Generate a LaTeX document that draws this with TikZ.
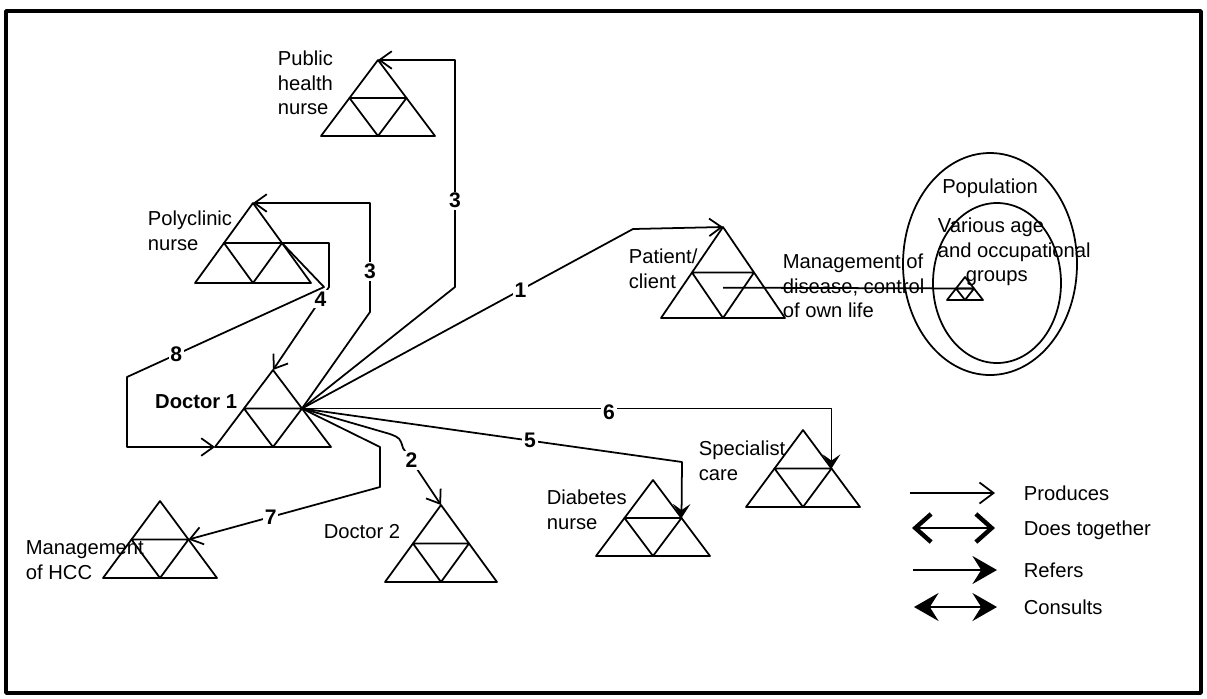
\documentclass[tikz,border=0pt]{standalone}
\usepackage{fontspec}
\setmainfont{Liberation Sans}
\usepackage{tikz}
\usetikzlibrary{arrows.meta,calc}

\tikzset{
  pics/tri/.style args={#1/#2}{code={
    \coordinate (-apex) at (0,0);
    \coordinate (-bl) at (-#1,#2);
    \coordinate (-br) at (#1,#2);
    \coordinate (-ml) at ({-#1/2},{#2/2});
    \coordinate (-mr) at ({#1/2},{#2/2});
    \coordinate (-bm) at (0,#2);
    \coordinate (-c) at (0,{#2*2/3});
    \draw (-apex) -- (-bl) -- (-br) -- cycle;
    \draw (-ml) -- (-mr) -- (-bm) -- cycle;
  }},
  bigbarb/.tip={Straight Barb[length=9pt,width=16pt,line width=2.5pt]},
  bigstealth/.tip={Stealth[length=14pt,width=16pt,inset=5pt]},
}

\begin{document}
\begin{tikzpicture}[
  x=0.02cm, y=-0.02cm,
  line width=1pt, line join=round,
  font=\fontsize{11.5}{14}\selectfont,
  lbl/.style={inner sep=0pt, align=left, anchor=west},
  num/.style={font=\fontsize{12}{14}\selectfont\bfseries, fill=white, inner sep=1pt},
  produces/.style={-{Straight Barb[length=7pt,width=10pt]}},
  refers/.style={-{Stealth[length=8pt,width=10pt,inset=3.5pt]}},
]
\useasboundingbox (0,0) rectangle (1207,698);
\draw[line width=2pt] (6,11) rectangle (1201,693);

% role triangles
\pic (pub)  at (378,60)  {tri=57/76};
\pic (pol)  at (253,203) {tri=58/80};
\pic (doc1) at (273,370) {tri=58/77};
\pic (pat)  at (723,227) {tri=62/91};
\pic (spec) at (803,430) {tri=57/77};
\pic (diab) at (653,480) {tri=57/76};
\pic (doc2) at (441,505) {tri=56/77};
\pic (hcc)  at (160,501) {tri=57/77};

\node[lbl] (pubtxt) at (277,83) {Public\\health\\nurse};
\node[lbl] (poltxt) at (147,231) {Polyclinic\\nurse};
\node[lbl,anchor=east,font=\fontsize{11.5}{14}\selectfont\bfseries] (doc1txt) at (238,402) {Doctor 1};
\node[lbl] (pattxt) at (628,269) {Patient/\\client};
\node[lbl] (spectxt) at (698,461) {Specialist\\care};
\node[lbl] (diabtxt) at (546,510) {Diabetes\\nurse};
\node[lbl,anchor=east] (doc2txt) at (401,532) {Doctor 2};
\node[lbl] (hcctxt) at (25,560) {Management\\of HCC};

% population
\draw (990,264) ellipse [x radius=87, y radius=111];
\draw (997,283) ellipse [x radius=64, y radius=80];
\node[inner sep=0pt] (poptxt) at (990,188) {Population};
\node[lbl] (grptxt) at (937,252) {Various age\\and occupational\\\hspace*{0.56cm}groups};
\pic (popt) at (965,277) {tri=18/23};
\node[lbl] (mgmttxt) at (782,286) {Management of\\disease, control\\of own life};
\draw (pat-c) -- (popt-mr);

% connectors from Doctor 1
\coordinate (k3a) at (455,287);
\coordinate (k3b) at (455,60);
\coordinate (k3c) at (370,312);
\coordinate (k3d) at (370,203);
\coordinate (k1) at (633,229);
\coordinate (k5) at (682,462);
\coordinate (k2a) at (390,434);
\coordinate (k2b) at (400,438);
\coordinate (k2c) at (403,448);
\coordinate (k7a) at (380,447);
\coordinate (k7b) at (380,487);
\draw[produces] (doc1-mr) -- (k3a) -- node[num,pos=0.38]{3} (k3b) -- (pub-apex);
\draw[produces] (doc1-mr) -- (k3c) -- node[num,pos=0.37]{3} (k3d) -- (pol-apex);
\draw[produces] (doc1-mr) -- node[num,pos=0.66]{1} (k1) -- (pat-apex);
\draw[refers] (doc1-mr) -| node[num,pos=0.29,yshift=-0.08cm]{6} (spec-mr);
\draw[refers] (doc1-mr) -- node[num,pos=0.6]{5} (k5) -- (diab-mr);
\draw[produces] (doc1-mr) -- (k2a) .. controls (k2b) .. (k2c) -- node[num,pos=0.22]{2} (doc2-apex);
\draw[produces] (doc1-mr) -- (k7a) -- (k7b) -- node[num,pos=0.57]{7} (hcc-mr);

% connectors from polyclinic nurse
\coordinate (k4a) at (329,243);
\coordinate (k4b) at (329,287);
\coordinate (k8a) at (324,287);
\coordinate (k8b) at (127,377);
\coordinate (k8c) at (127,447);
\draw[produces] (pol-mr) -- (k4a) -- (k4b) -- node[num,pos=0.15]{4} (doc1-apex);
\draw[produces] (pol-mr) -- (k8a) -- node[num,pos=0.75]{8} (k8b) -- (k8c) -- (doc1-bl);

% legend
\coordinate (lp0) at (910,493); \coordinate (lp1) at (995,493);
\coordinate (ld0) at (912,528); \coordinate (ld1) at (995,528);
\coordinate (lr0) at (913,570); \coordinate (lr1) at (997,570);
\coordinate (lc0) at (914,607); \coordinate (lc1) at (997,607);
\draw[-{Straight Barb[length=8pt,width=12pt]}] (lp0) -- (lp1);
\draw[line width=0.7pt,{bigbarb}-{bigbarb}] (ld0) -- (ld1);
\draw[-{bigstealth}] (lr0) -- (lr1);
\draw[line width=0.7pt,{bigstealth}-{bigstealth}] (lc0) -- (lc1);
\node[lbl] (lgprod) at (1023,493) {Produces};
\node[lbl] (lgdoes) at (1023,530) {Does together};
\node[lbl] (lgref) at (1023,570) {Refers};
\node[lbl] (lgcons) at (1023,607) {Consults};
\end{tikzpicture}
\end{document}
